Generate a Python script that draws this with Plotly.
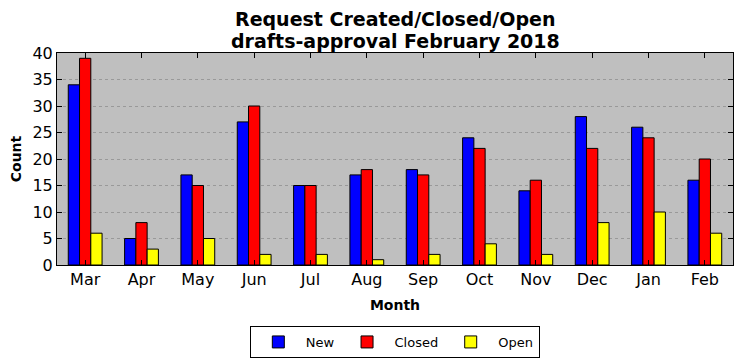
import plotly.graph_objects as go

months = ["Mar", "Apr", "May", "Jun", "Jul", "Aug", "Sep", "Oct", "Nov", "Dec", "Jan", "Feb"]
new_vals = [34, 5, 17, 27, 15, 17, 18, 24, 14, 28, 26, 16]
closed_vals = [39, 8, 15, 30, 15, 18, 17, 22, 16, 22, 24, 20]
open_vals = [6, 3, 5, 2, 2, 1, 2, 4, 2, 8, 10, 6]
title_lines = ["Request Created/Closed/Open", "drafts-approval February 2018"]

font = "DejaVu Sans"
fig = go.Figure()
for name, vals, col in [("New", new_vals, "#0000ff"), ("Closed", closed_vals, "#ff0000"), ("Open", open_vals, "#ffff00")]:
    fig.add_trace(go.Bar(x=months, y=vals, name=name, marker=dict(color=col, line=dict(color="black", width=1))))

for line, shift in zip(title_lines, [34, 12]):
    fig.add_annotation(text="<b>" + line + "</b>",
                       xref="paper", yref="paper", x=0.5, y=1, xanchor="center", yanchor="middle",
                       yshift=shift, showarrow=False, font=dict(size=19, family=font))

fig.update_layout(
    width=734, height=353,
    margin=dict(l=49, r=9, t=45, b=96, autoexpand=False),
    paper_bgcolor="white", plot_bgcolor="#bfbfbf",
    barmode="group", bargap=0.4, bargroupgap=0,
    font=dict(family=font, color="black"),
    xaxis=dict(title=dict(text="<b>Month</b>", font=dict(size=14), standoff=11),
               tickfont=dict(size=16), showline=True, linecolor="black", linewidth=1, mirror="ticks",
               ticks="inside", ticklen=5, tickcolor="black", range=[-0.5, 11.5], showgrid=False,
               automargin=False),
    yaxis=dict(title=dict(text="<b>Count</b>", font=dict(size=14), standoff=7),
               range=[0, 40], dtick=5, tickfont=dict(size=16), showline=True, linecolor="black",
               linewidth=1, mirror="ticks", ticks="inside", ticklen=5, tickcolor="black",
               showgrid=True, gridcolor="#999999", griddash="dot", gridwidth=1, zeroline=False,
               automargin=False),
    legend=dict(orientation="h", xref="container", yref="container", x=0.527, xanchor="center",
                y=0.0992, yanchor="top",
                bordercolor="black", borderwidth=1, font=dict(size=13), itemwidth=45,
                bgcolor="white"),
)
fig.write_html("out.html")
